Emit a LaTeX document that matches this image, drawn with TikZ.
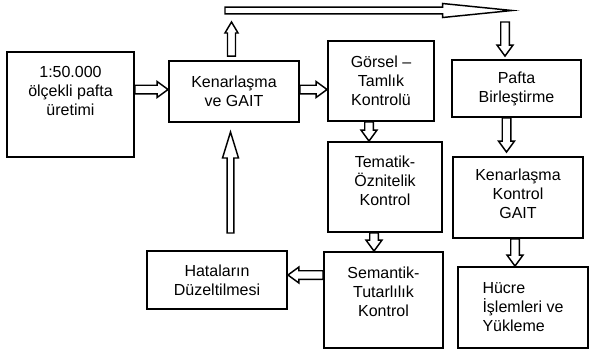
\documentclass[tikz,border=0pt]{standalone}
\usepackage{fontspec}
\setmainfont{Liberation Sans}
\usetikzlibrary{calc}
\def\px{0.75pt}
\tikzset{
	box/.style 2 args={draw, line width=1.4pt, align=center, inner sep=0pt,
		minimum width=#1*\px, minimum height=#2*\px},
	% hollow block arrow: body half width, head half width, head length
	fat/.style n args={3}{draw, fill=white, line width=1.1pt, line join=miter,
		to path={let \p1=(\tikztostart), \p2=(\tikztotarget),
			\n1={atan2(\y2-\y1,\x2-\x1)}, \n2={veclen(\x2-\x1,\y2-\y1)} in
			[shift={(\p1)}, rotate=\n1]
			(0pt,#1) -- (\n2-#3,#1) -- (\n2-#3,#2) -- (\n2+0pt,0pt)
			-- (\n2-#3,-#2) -- (\n2-#3,-#1) -- (0pt,-#1) -- cycle}},
	arr/.style={fat={3.2pt}{6pt}{8.25pt}}
}
\begin{document}
\begin{tikzpicture}[x=\px, y=-\px, font=\fontsize{12}{14.3}\selectfont]
	\useasboundingbox (0,0) rectangle (590,351);
	\node[box={127}{105}, text depth=20pt] (uret) at (70.5,104.5) {1:50.000\\ölçekli pafta\\üretimi};
	\node[box={130}{61}] (kgait) at (234,91.5) {Kenarlaşma\\ve GAIT};
	\node[box={106}{80}] (gorsel) at (381,81) {Görsel –\\Tamlık\\Kontrolü};
	\node[box={129}{57}] (pafta) at (516.5,88.5) {Pafta\\Birleştirme};
	\node[box={114}{90}, text depth=10pt] (tematik) at (385,187) {Tematik-\\Öznitelik\\Kontrol};
	\node[box={130}{81}, text depth=6pt] (kkont) at (518,197.5) {Kenarlaşma\\Kontrol\\GAIT};
	\node[box={119}{96}, text depth=13pt] (semantik) at (383.5,300) {Semantik-\\Tutarlılık\\Kontrol};
	\node[box={130}{81}, align=left] (hucre) at (523,307.5) {Hücre\\İşlemleri ve\\Yükleme};
	\node[box={140}{58}] (hata) at (217,280) {Hataların\\Düzeltilmesi};
	% free ends
	\coordinate (upTip) at (231.5,22);
	\coordinate (topL) at (225,10.5);
	\coordinate (topR) at (512,10.5);
	\coordinate (dnTail) at (505,22);
	\coordinate (colA) at (506.5,0);
	\coordinate (colB) at (515,0);
	\coordinate (colC) at (369,0);
	\coordinate (colD) at (374,0);
	\coordinate (rowA) at (0,89.5);
	\coordinate (rowB) at (0,275);
	\coordinate (backTail) at (230.5,233);
	\coordinate (backTip) at (230.5,132);
	\draw[arr] (uret.east |- rowA) to (kgait.west |- rowA);
	\draw[arr] (kgait.east |- rowA) to (gorsel.west |- rowA);
	\draw[fat={3pt}{4.9pt}{8.25pt}] ($(kgait.north -| upTip)+(0,-4)$) to (upTip);
	\draw[fat={2.6pt}{5.25pt}{52pt}] (topL) to (topR);
	\draw[arr] (dnTail) to ($(pafta.north -| dnTail)+(0,-3)$);
	\draw[arr] (pafta.south -| colA) to ($(kkont.north -| colA)+(0,-4)$);
	\draw[arr] (kkont.south -| colB) to (hucre.north -| colB);
	\draw[arr] (gorsel.south -| colC) to (tematik.north -| colC);
	\draw[arr] (tematik.south -| colD) to (semantik.north -| colD);
	\draw[arr] (semantik.west |- rowB) to (hata.east |- rowB);
	\draw[fat={2.6pt}{6pt}{19.5pt}] (backTail) to (backTip);
\end{tikzpicture}
\end{document}
